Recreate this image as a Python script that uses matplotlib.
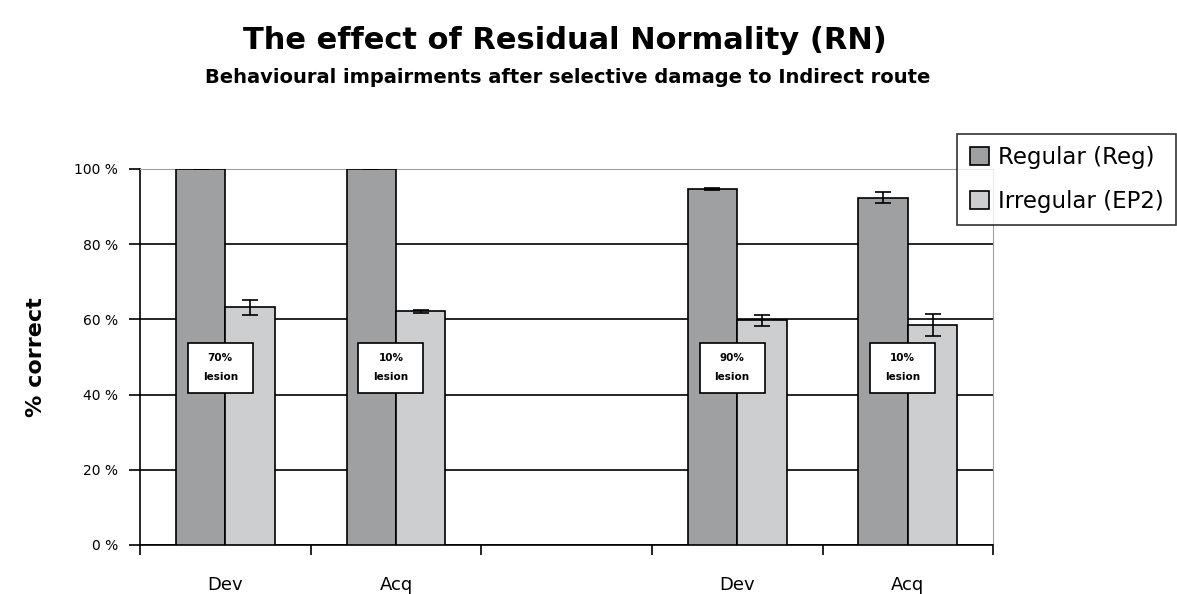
import numpy as np
import matplotlib.pyplot as plt
from matplotlib.patches import Rectangle

# Data
slots = ['Dev', 'Acq', '', 'Dev', 'Acq']
bar_slots = [0, 1, 3, 4]
regular = [100, 100, 94.6, 92.4]
regular_err = [0, 0, 0.3, 1.4]
irregular = [63.2, 62.1, 59.8, 58.5]
irregular_err = [1.9, 0.4, 1.5, 3.0]
lesion_labels = ['70%\nlesion', '10%\nlesion', '90%\nlesion', '10%\nlesion']

plt.rcParams['font.family'] = ['DejaVu Sans']

fig = plt.figure(figsize=(11.77, 5.94), dpi=100)
ax = fig.add_axes([0.119, 0.0825, 0.7248, 0.633])

x = np.array(bar_slots, dtype=float)
w = 0.29
dark = '#9fa0a2'
light = '#cdced0'

ax.bar(x - w / 2, regular, w, color=dark, edgecolor='black', linewidth=1.2,
       label='Regular (Reg)', zorder=3)
ax.bar(x + w / 2, irregular, w, color=light, edgecolor='black', linewidth=1.2,
       label='Irregular (EP2)', zorder=3)
ax.errorbar(x - w / 2, regular, yerr=regular_err, fmt='none', ecolor='black',
            elinewidth=1.2, capsize=6, capthick=1.2, zorder=4)
ax.errorbar(x + w / 2, irregular, yerr=irregular_err, fmt='none', ecolor='black',
            elinewidth=1.2, capsize=6, capthick=1.2, zorder=4)

# lesion label boxes
bw, bh = 0.38, 13.3
for xi, lab in zip(x, lesion_labels):
    cx, cy = xi - 0.03, 47.1
    ax.add_patch(Rectangle((cx - bw / 2, cy - bh / 2), bw, bh, facecolor='white',
                           edgecolor='black', linewidth=1.2, zorder=5))
    ax.text(cx, cy, lab, ha='center', va='center', fontsize=7.5,
            fontweight='bold', linespacing=2.1, zorder=6)

ax.set_xlim(-0.5, 4.5)
ax.set_ylim(0, 100)
ax.set_yticks(range(0, 101, 20))
ax.set_yticklabels(['%d %%' % v for v in range(0, 101, 20)], fontsize=10)
ax.set_xticks(np.arange(-0.5, 4.6, 1.0))
ax.set_xticklabels([])
ax.set_xticks(range(5), minor=True)
ax.set_xticklabels(slots, minor=True, fontsize=13)
ax.tick_params(axis='x', which='minor', length=0, pad=22)
ax.tick_params(axis='x', which='major', length=7, width=1.2, direction='out')
ax.tick_params(axis='y', length=8, width=1.2, direction='out', pad=8)

ax.yaxis.grid(True, color='black', linewidth=1.2, zorder=0)
ax.set_axisbelow(True)
ax.spines['left'].set_linewidth(1.2)
ax.spines['bottom'].set_linewidth(1.2)
ax.spines['top'].set_color('#a0a0a0')
ax.spines['right'].set_color('#a0a0a0')

ax.set_ylabel('% correct', fontsize=16, fontweight='bold', labelpad=20)

fig.text(0.48, 0.932, 'The effect of Residual Normality (RN)', ha='center',
         va='center', fontsize=22, fontweight='bold')
fig.text(0.482, 0.87, 'Behavioural impairments after selective damage to Indirect route',
         ha='center', va='center', fontsize=14, fontweight='bold')

leg = fig.legend(loc='upper right', bbox_to_anchor=(1.0, 0.777), fontsize=16.5,
                 frameon=True, fancybox=False, edgecolor='black',
                 handlelength=0.85, handleheight=0.85, handletextpad=0.35,
                 borderpad=0.55, labelspacing=0.9, borderaxespad=0.05)
leg.get_frame().set_linewidth(1.2)

fig.savefig('out.png', dpi=100)
